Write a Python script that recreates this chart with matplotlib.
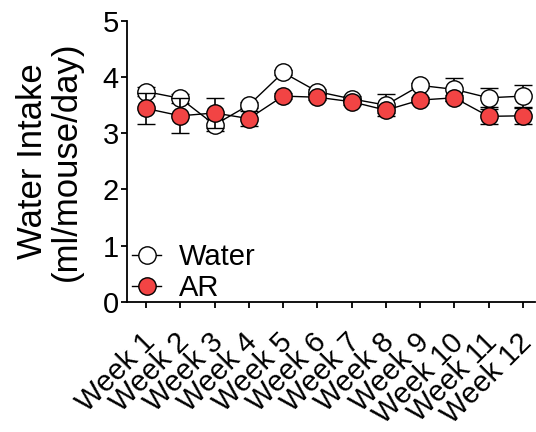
import numpy as np
from matplotlib import pyplot as plt
from matplotlib.lines import Line2D
from matplotlib.transforms import ScaledTranslation

plt.rcParams['font.family'] = ['Liberation Sans', 'DejaVu Sans']

weeks = ["Week 1", "Week 2", "Week 3", "Week 4", "Week 5", "Week 6",
         "Week 7", "Week 8", "Week 9", "Week 10", "Week 11", "Week 12"]

water_mean = [3.74, 3.62, 3.15, 3.50, 4.08, 3.74, 3.61, 3.50, 3.85, 3.78, 3.63, 3.66]
water_err = [0.08, 0.08, 0.11, 0.06, 0.05, 0.05, 0.05, 0.19, 0.05, 0.20, 0.17, 0.19]

ar_mean = [3.44, 3.31, 3.36, 3.26, 3.66, 3.64, 3.56, 3.41, 3.59, 3.63, 3.30, 3.31]
ar_err = [0.28, 0.31, 0.27, 0.14, 0.05, 0.05, 0.05, 0.05, 0.05, 0.05, 0.13, 0.14]

red = "#f24444"


def main():
    x = np.arange(1, len(weeks) + 1)

    fig = plt.figure(figsize=(5.36, 4.32), dpi=100)
    ax = fig.add_axes([0.237, 0.301, 0.761, 0.651])

    common = dict(color="black", lw=1, marker="o", ms=12.5, mec="black",
                  mew=1, ecolor="black", elinewidth=1.2, capsize=6.5, capthick=1.2)
    ax.errorbar(x, water_mean, yerr=water_err, mfc="white", zorder=3, **common)
    ax.errorbar(x, ar_mean, yerr=ar_err, mfc=red, zorder=4, **common)

    ax.set_ylim(0, 5)
    ax.set_xlim(0.445, 12.35)
    ax.set_yticks(range(6))
    ax.set_xticks(x)
    ax.set_xticklabels(weeks, rotation=45, ha="right", va="top",
                       rotation_mode="anchor")

    for side in ["top", "right"]:
        ax.spines[side].set_visible(False)
    for side in ["left", "bottom"]:
        ax.spines[side].set_linewidth(1.3)

    ax.tick_params(axis="both", labelsize=21, width=1.3, length=4)
    ax.tick_params(axis="y", pad=2)
    ax.tick_params(axis="x", pad=15)
    shift = ScaledTranslation(-4 / 72, 0, fig.dpi_scale_trans)
    for lab in ax.get_xticklabels():
        lab.set_transform(lab.get_transform() + shift)

    ax.set_ylabel("Water Intake\n(ml/mouse/day)", fontsize=25, labelpad=14,
                  linespacing=1.05)

    handles = [
        Line2D([], [], color="black", lw=1, marker="o", ms=12.5, mec="black",
               mfc="white"),
        Line2D([], [], color="black", lw=1, marker="o", ms=12.5, mec="black",
               mfc=red),
    ]
    ax.legend(handles, ["Water", "AR"], loc="lower left", frameon=False,
              fontsize=21, handlelength=1.0, handletextpad=0.6,
              labelspacing=0.1, borderpad=0, borderaxespad=0,
              bbox_to_anchor=(0.012, 0.0))

    fig.savefig("out.png", dpi=100)
    return 0


if __name__ == "__main__":
    main()
